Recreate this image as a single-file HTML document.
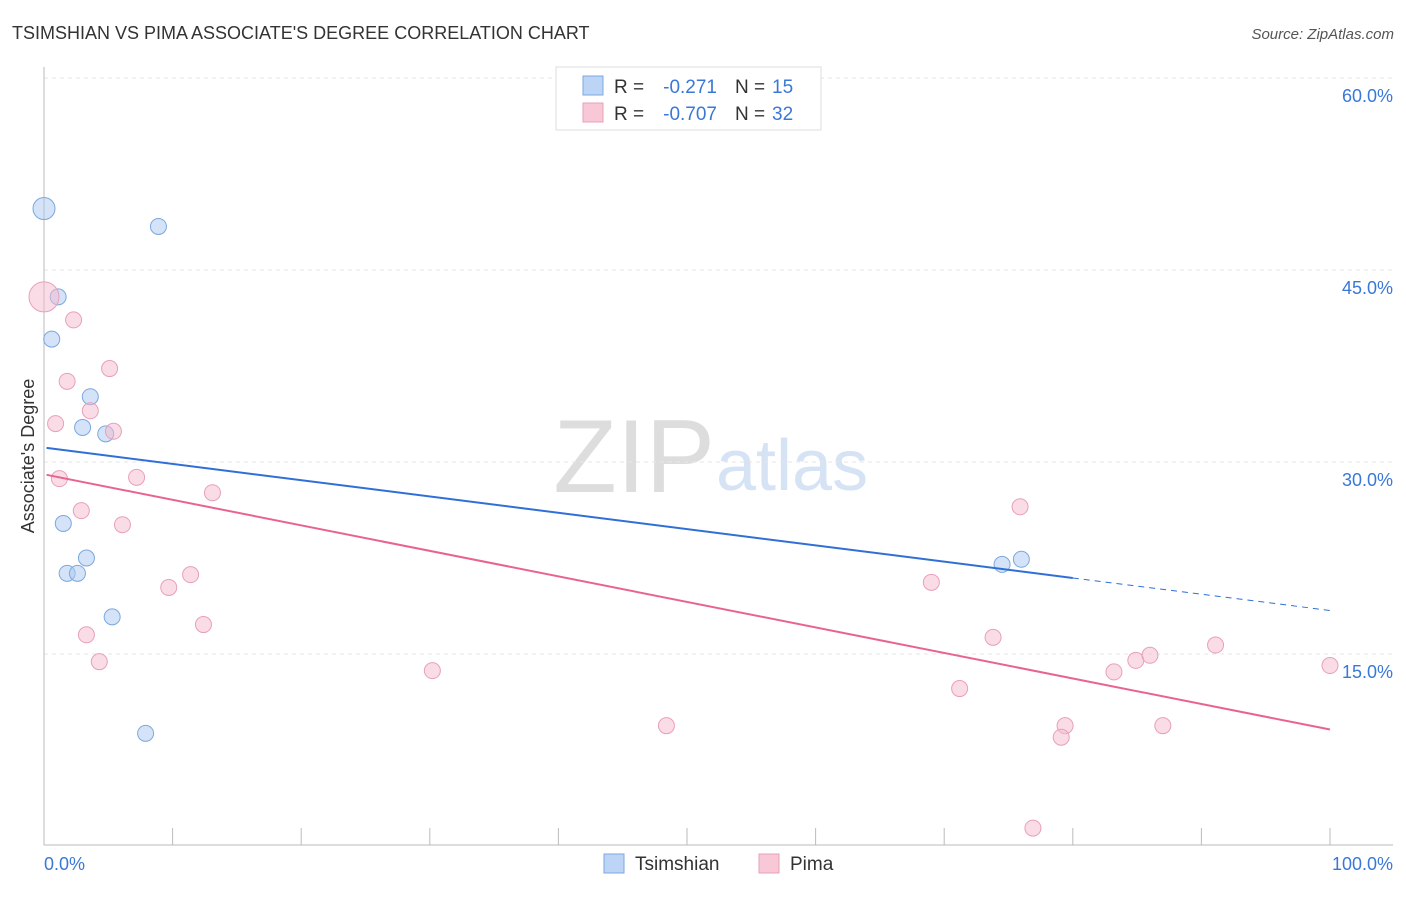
<!DOCTYPE html>
<html><head><meta charset="utf-8"><style>
body{margin:0;background:#fff;font-family:"Liberation Sans",sans-serif;}
svg text{font-family:"Liberation Sans",sans-serif;}
</style></head><body>
<svg id="c" width="1406" height="892" xmlns="http://www.w3.org/2000/svg">
<text x="12" y="39" font-size="18" fill="#333">TSIMSHIAN VS PIMA ASSOCIATE'S DEGREE CORRELATION CHART</text>
<text x="1394" y="39" font-size="15" fill="#555" text-anchor="end" font-style="italic">Source: ZipAtlas.com</text>
<text x="715" y="492" font-size="104" fill="#ddd" text-anchor="end" font-family="Liberation Serif">ZIP</text>
<text x="716" y="490" font-size="72" fill="#d6e3f5">atlas</text>
<text x="34" y="456" font-size="18" fill="#333" text-anchor="middle" transform="rotate(-90 34 456)">Associate's Degree</text>
<g id="grid"></g><g id="marks"></g>
<g>
<rect x="556" y="67" width="265" height="63" fill="#fff" stroke="#ddd"/>
<rect x="583" y="76" width="20" height="19" fill="#bcd4f5" stroke="#7aa8e0"/>
<rect x="583" y="103" width="20" height="19" fill="#f9c8d6" stroke="#e8a0b8"/>
<text x="614" y="93" font-size="19" fill="#333">R =</text>
<text x="717" y="93" font-size="19" fill="#3a78d8" text-anchor="end">-0.271</text>
<text x="735" y="93" font-size="19" fill="#333">N =</text>
<text x="772" y="93" font-size="19" fill="#3a78d8">15</text>
<text x="614" y="120" font-size="19" fill="#333">R =</text>
<text x="717" y="120" font-size="19" fill="#3a78d8" text-anchor="end">-0.707</text>
<text x="735" y="120" font-size="19" fill="#333">N =</text>
<text x="772" y="120" font-size="19" fill="#3a78d8">32</text>
</g>
<g>
<rect x="604" y="854" width="20" height="19" fill="#bcd4f5" stroke="#7aa8e0"/>
<text x="635" y="870" font-size="19" fill="#333">Tsimshian</text>
<rect x="759" y="854" width="20" height="19" fill="#f9c8d6" stroke="#e8a0b8"/>
<text x="790" y="870" font-size="19" fill="#333">Pima</text>
</g>
</svg>
<script>
const yTicks=[15,30,45,60];
const xTickLabels=["0.0%","100.0%"];
const blueX=[0,8.9,1.1,0.6,3.6,3.0,4.8,1.5,3.3,1.8,2.6,5.3,7.9,74.5,76.0];
const blueY=[49.8,48.4,42.9,39.6,35.1,32.7,32.2,25.2,22.5,21.3,21.3,17.9,8.8,22.0,22.4];
const blueR=[11,8,8,8,8,8,8,8,8,8,8,8,8,8,8];
const pinkX=[0,2.3,1.8,5.1,3.6,0.9,5.4,1.2,7.2,2.9,13.1,6.1,11.4,9.7,12.4,3.3,4.3,30.2,48.4,69.0,75.9,73.8,71.2,83.2,84.9,86.0,91.1,100,79.4,79.1,87.0,76.9];
const pinkY=[42.9,41.1,36.3,37.3,34.0,33.0,32.4,28.7,28.8,26.2,27.6,25.1,21.2,20.2,17.3,16.5,14.4,13.7,9.4,20.6,26.5,16.3,12.3,13.6,14.5,14.9,15.7,14.1,9.4,8.5,9.4,1.4];
const pinkR=[15,8,8,8,8,8,8,8,8,8,8,8,8,8,8,8,8,8,8,8,8,8,8,8,8,8,8,8,8,8,8,8];
const blueLine=[31.1,18.4];const blueSolidEnd=80;
const pinkLine=[29.0,9.1];
const X=v=>44+v*12.86, Y=v=>846-v*12.8;
const NS="http://www.w3.org/2000/svg";
function mk(t,a,p){const e=document.createElementNS(NS,t);for(const k in a)e.setAttribute(k,a[k]);p.appendChild(e);return e;}
const g=document.getElementById('grid'),m=document.getElementById('marks');
yTicks.forEach(t=>{
 const l=mk('line',{x1:44,x2:1393,y1:Y(t),y2:Y(t),stroke:'#e6e6e6','stroke-dasharray':'4,4'},g);
 
 
 const tx=mk('text',{x:1393,y:Y(t)+24,'font-size':18,fill:'#3a78d8','text-anchor':'end'},g);tx.textContent=t.toFixed(1)+'%';
 
 
});
const ax=mk('line',{x1:44,x2:1393,y1:845,y2:845,stroke:'#bbb'},g);


const ay=mk('line',{x1:44,x2:44,y1:67,y2:845,stroke:'#bbb'},g);


for(let i=0;i<=10;i++){const t=mk('line',{x1:X(i*10),x2:X(i*10),y1:828,y2:845,stroke:'#bbb'},g);
 
 }
const l0=mk('text',{x:44,y:870,'font-size':18,fill:'#3a78d8'},g);l0.textContent=xTickLabels[0];


const l1=mk('text',{x:1393,y:870,'font-size':18,fill:'#3a78d8','text-anchor':'end'},g);l1.textContent=xTickLabels[1];


function pts(xs,ys,rs,fill,stroke,name){xs.forEach((x,i)=>{const c=mk('circle',{cx:X(x),cy:Y(ys[i]),r:rs[i],fill:fill,stroke:stroke,'stroke-width':1},m);
 
 });}
pts(blueX,blueY,blueR,'rgba(170,200,240,0.5)','#7aa8e0','tsimshian-point');
pts(pinkX,pinkY,pinkR,'rgba(246,185,205,0.5)','#e8a0b8','pima-point');
const lerp=(a,t)=>a[0]+(a[1]-a[0])*t/100;
const bl=mk('line',{x1:X(0.2),y1:Y(blueLine[0]),x2:X(blueSolidEnd),y2:Y(lerp(blueLine,blueSolidEnd)),stroke:'#2f6fd6','stroke-width':2},m);


const bd=mk('line',{x1:X(blueSolidEnd),y1:Y(lerp(blueLine,blueSolidEnd)),x2:X(100),y2:Y(blueLine[1]),stroke:'#2f6fd6','stroke-width':1,'stroke-dasharray':'6,5'},m);


const pl=mk('line',{x1:X(0.2),y1:Y(pinkLine[0]),x2:X(100),y2:Y(pinkLine[1]),stroke:'#e8648e','stroke-width':2},m);


</script>
</body></html>
